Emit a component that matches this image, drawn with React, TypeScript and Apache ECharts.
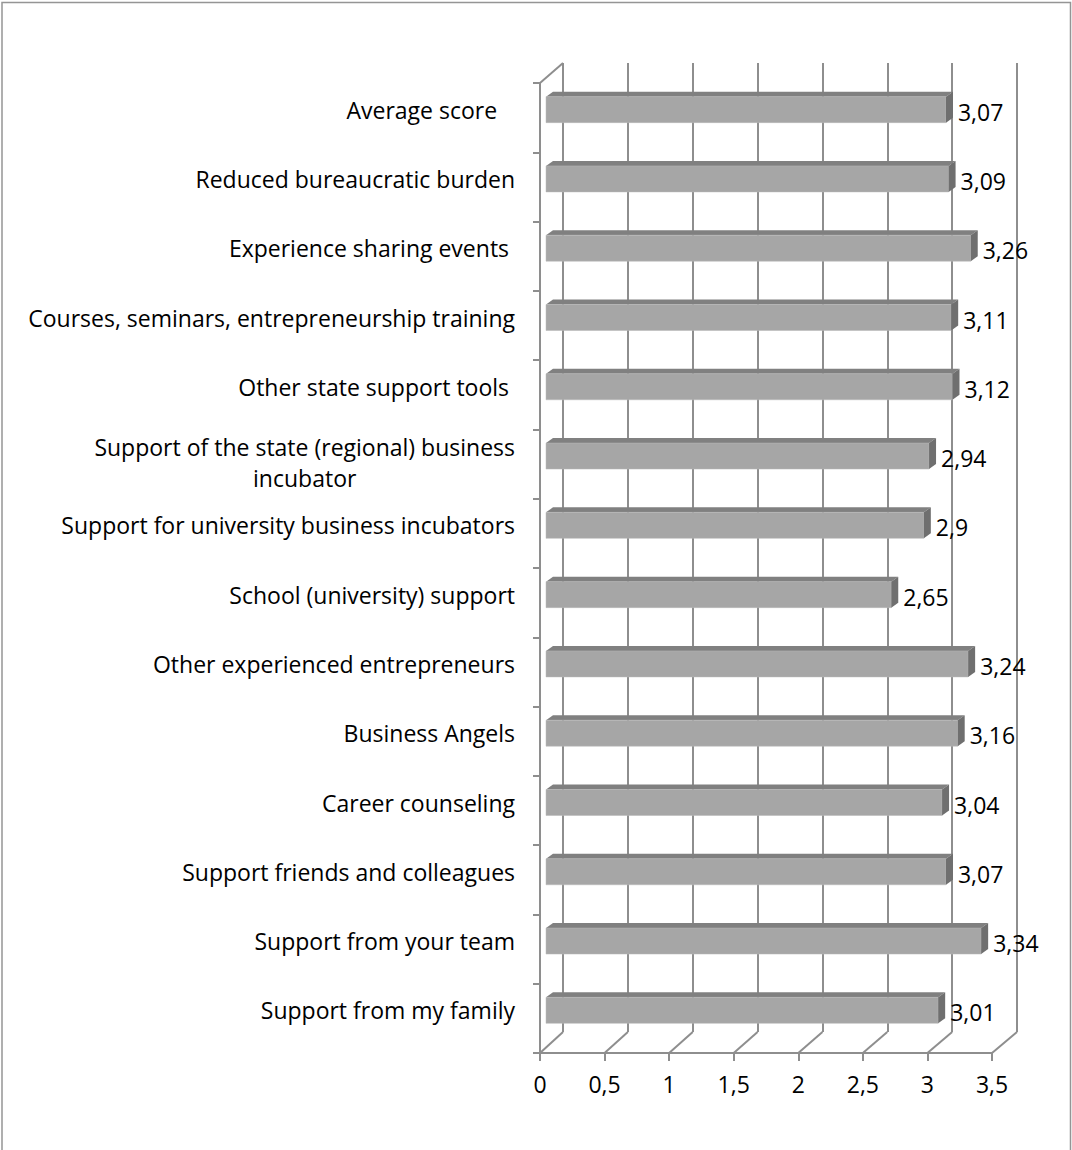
import React, { useEffect, useRef } from "react";
import * as echarts from "echarts";

const categories: string[] = [
  "Average score   ",
  "Reduced bureaucratic burden",
  "Experience sharing events ",
  "Courses, seminars, entrepreneurship training",
  "Other state support tools ",
  "Support of the state (regional) business\nincubator",
  "Support for university business incubators",
  "School (university) support",
  "Other experienced entrepreneurs",
  "Business Angels",
  "Career counseling",
  "Support friends and colleagues",
  "Support from your team",
  "Support from my family",
];
const values: number[] = [3.07, 3.09, 3.26, 3.11, 3.12, 2.94, 2.9, 2.65, 3.24, 3.16, 3.04, 3.07, 3.34, 3.01];
const xTicks: number[] = [0, 0.5, 1, 1.5, 2, 2.5, 3, 3.5];

const FONT = "'Open Sans', 'Noto Sans', sans-serif";
const FS = 23;
const GRID_COLOR = "#8e8e8e";
const fmt = (v: number) => String(v).replace(".", ",");

export default function App() {
  const ref = useRef<HTMLDivElement>(null);
  useEffect(() => {
    if (!ref.current) return;
    const chart = echarts.init(ref.current, undefined, { renderer: "svg" });
    const n = categories.length;
    const option: any = {
      animation: false,
      backgroundColor: "#fff",
      graphic: [
        {
          type: "rect",
          shape: { x: 2, y: 2.5, width: 1068.5, height: 1160 },
          style: { fill: "none", stroke: "#959595", lineWidth: 1.5 },
          silent: true,
        },
      ],
      grid: [
        { left: 563, top: 63, width: 454, height: 969 },
        { left: 540, top: 83, width: 452, height: 970 },
        { left: 546, top: 75, width: 456, height: 970 },
      ],
      xAxis: [
        {
          gridIndex: 0, type: "value", min: 0, max: 3.5, interval: 0.5,
          axisLine: { show: false }, axisTick: { show: false }, axisLabel: { show: false },
          splitLine: { show: true, lineStyle: { color: GRID_COLOR, width: 2 } },
        },
        {
          gridIndex: 1, type: "value", min: 0, max: 3.5, interval: 0.5,
          axisLine: { show: true, lineStyle: { color: GRID_COLOR, width: 2 } },
          axisTick: { show: true, length: 8, lineStyle: { color: GRID_COLOR, width: 2 } },
          axisLabel: { show: true, color: "#000", fontSize: FS, fontFamily: FONT, margin: 19, formatter: (v: number) => fmt(v) },
          splitLine: { show: false },
        },
        {
          gridIndex: 2, type: "value", min: 0, max: 3.5, interval: 0.5, show: false,
          splitLine: { show: false },
        },
      ],
      yAxis: [
        { gridIndex: 0, type: "category", data: categories, inverse: true, show: false },
        {
          gridIndex: 1, type: "category", data: categories, inverse: true,
          axisLine: { show: true, lineStyle: { color: GRID_COLOR, width: 2 } },
          axisTick: { show: true, length: 7, lineStyle: { color: GRID_COLOR, width: 2 } },
          axisLabel: { show: false },
          splitLine: { show: false },
        },
        {
          gridIndex: 2, type: "category", data: categories, inverse: true,
          axisLine: { show: false }, axisTick: { show: false },
          axisLabel: {
            show: true, color: "#000", fontSize: FS, fontFamily: FONT, margin: 31, lineHeight: 31,
            formatter: (v: string) => {
              const lines = v.replace(/ +$/, (m) => "\u00a0".repeat(m.length)).split("\n");
              if (lines.length === 1) return `{c|${lines[0]}}`;
              return ["{s|\u00a0}"].concat(lines.map((l) => `{c|${l}}`)).join("\n");
            },
            rich: {
              c: { align: "center", fontSize: FS, fontFamily: FONT, color: "#000", lineHeight: 31 },
              s: { fontSize: 2, lineHeight: 12 },
            },
          },
          splitLine: { show: false },
        },
      ],
      series: [
        {
          type: "custom",
          name: "walls",
          xAxisIndex: 1,
          yAxisIndex: 1,
          silent: true,
          data: xTicks.map((t) => [t, n - 1]),
          renderItem: (params: any, api: any) => {
            const v = api.value(0);
            const half = api.size([0, 1])[1] / 2;
            const p = api.coord([v, n - 1]);
            const yb = p[1] + half;
            const dx = 23 + (v / 3.5) * 2;
            const children: any[] = [
              {
                type: "line",
                shape: { x1: p[0], y1: yb, x2: p[0] + dx, y2: yb - 21 },
                style: { stroke: GRID_COLOR, lineWidth: 2 },
              },
            ];
            if (params.dataIndex === 0) {
              const top = api.coord([0, 0])[1] - half;
              children.push({
                type: "line",
                shape: { x1: p[0], y1: top, x2: p[0] + dx, y2: top - 20 },
                style: { stroke: GRID_COLOR, lineWidth: 2 },
              });
            }
            return { type: "group", children };
          },
        },
        {
          type: "custom",
          name: "bars",
          xAxisIndex: 2,
          yAxisIndex: 2,
          data: values.map((v, i) => [v, i]),
          encode: { x: 0, y: 1 },
          renderItem: (params: any, api: any) => {
            const v = api.value(0);
            const i = api.value(1);
            const p0 = api.coord([0, i]);
            const p1 = api.coord([v, i]);
            const x0 = p0[0];
            const x1 = p1[0];
            const yc = p1[1];
            const h = 26;
            const dx = 7;
            const dy = 5;
            const yt = yc - h / 2;
            const yb = yc + h / 2;
            return {
              type: "group",
              children: [
                {
                  type: "polygon",
                  shape: { points: [[x0, yt], [x0 + dx, yt - dy], [x1 + dx, yt - dy], [x1, yt]] },
                  style: { fill: "#808080" },
                },
                {
                  type: "rect",
                  shape: { x: x0, y: yt, width: x1 - x0, height: h },
                  style: { fill: "#a6a6a6", stroke: "#b8b8b8", lineWidth: 0.5 },
                },
                {
                  type: "polygon",
                  shape: { points: [[x1, yt], [x1 + dx, yt - dy], [x1 + dx, yb - dy], [x1, yb]] },
                  style: { fill: "#6f6f6f" },
                },
                {
                  type: "text",
                  style: {
                    text: fmt(v), x: x1 + dx + 5, y: yc + 2, fill: "#000",
                    fontSize: FS, fontFamily: FONT, align: "left", verticalAlign: "middle",
                  },
                },
              ],
            };
          },
        },
      ],
    };
    chart.setOption(option);
    return () => chart.dispose();
  }, []);
  return (
    <div
      ref={ref}
      style={{ position: "absolute", left: 0, top: 0, width: 1072, height: 1150 }}
    />
  );
}
